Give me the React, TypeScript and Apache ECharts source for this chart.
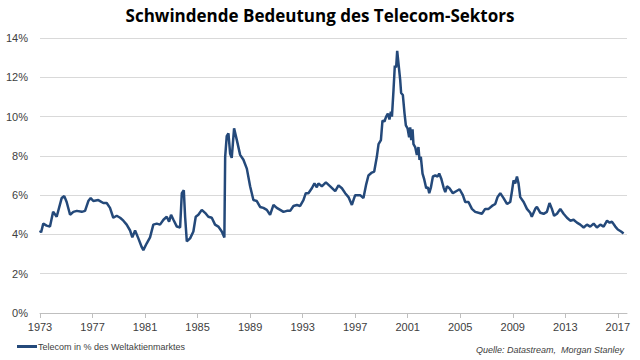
import React, { useEffect, useRef } from "react";
import * as echarts from "echarts";

const title = "Schwindende Bedeutung des Telecom-Sektors";
const seriesName = "Telecom in % des Weltaktienmarktes";
const sourceNote = "Quelle: Datastream,  Morgan Stanley";

const xTickYears = [1973, 1977, 1981, 1985, 1989, 1993, 1997, 2001, 2005, 2009, 2013, 2017];

const years = [
  1973.0, 1973.08, 1973.25, 1973.5, 1973.76, 1974.0, 1974.27, 1974.65, 1974.85, 1975.03,
  1975.29, 1975.54, 1975.8, 1976.18, 1976.43, 1976.68, 1976.86, 1977.06, 1977.44, 1977.82,
  1978.08, 1978.33, 1978.58, 1978.84, 1979.1, 1979.35, 1979.6, 1979.86, 1980.03, 1980.24,
  1980.49, 1980.75, 1980.87, 1981.13, 1981.38, 1981.63, 1981.89, 1982.14, 1982.4, 1982.65,
  1982.83, 1982.98, 1983.16, 1983.42, 1983.67, 1983.8, 1983.95, 1984.05, 1984.18, 1984.43,
  1984.68, 1984.86, 1985.06, 1985.32, 1985.57, 1985.82, 1986.08, 1986.33, 1986.58, 1986.84,
  1987.04, 1987.1, 1987.22, 1987.35, 1987.48, 1987.6, 1987.78, 1987.99, 1988.24, 1988.49,
  1988.75, 1989.0, 1989.25, 1989.51, 1989.76, 1990.01, 1990.27, 1990.52, 1990.78, 1991.03,
  1991.29, 1991.54, 1991.8, 1992.05, 1992.3, 1992.56, 1992.81, 1993.06, 1993.24, 1993.44,
  1993.7, 1993.9, 1994.08, 1994.2, 1994.46, 1994.77, 1995.1, 1995.48, 1995.73, 1995.99,
  1996.24, 1996.49, 1996.75, 1996.87, 1997.0, 1997.38, 1997.63, 1997.84, 1998.01, 1998.27,
  1998.45, 1998.65, 1998.78, 1998.96, 1999.08, 1999.23, 1999.36, 1999.49, 1999.61, 1999.72,
  1999.8, 1999.92, 2000.02, 2000.12, 2000.2, 2000.3, 2000.43, 2000.5, 2000.63, 2000.76,
  2000.86, 2000.99, 2001.11, 2001.19, 2001.27, 2001.37, 2001.44, 2001.57, 2001.7, 2001.82,
  2001.9, 2002.0, 2002.13, 2002.26, 2002.41, 2002.54, 2002.64, 2002.77, 2002.92, 2003.1,
  2003.28, 2003.4, 2003.55, 2003.73, 2003.86, 2003.99, 2004.18, 2004.44, 2004.69, 2004.95,
  2005.2, 2005.38, 2005.63, 2005.89, 2006.14, 2006.39, 2006.65, 2006.9, 2007.16, 2007.42,
  2007.67, 2007.84, 2008.05, 2008.3, 2008.56, 2008.81, 2008.94, 2009.06, 2009.19, 2009.32,
  2009.44, 2009.57, 2009.83, 2010.08, 2010.33, 2010.45, 2010.71, 2010.84, 2011.1, 2011.35,
  2011.6, 2011.8, 2011.98, 2012.15, 2012.37, 2012.62, 2012.87, 2013.13, 2013.38, 2013.63,
  2013.89, 2014.14, 2014.4, 2014.65, 2014.9, 2015.16, 2015.41, 2015.67, 2015.92, 2016.18,
  2016.38, 2016.55, 2016.81, 2017.0, 2017.25, 2017.44,
];

const telecomShare = [
  4.2, 4.1, 4.55, 4.45, 4.4, 5.15, 4.9, 5.85, 5.95, 5.65,
  5.0, 5.15, 5.2, 5.15, 5.2, 5.7, 5.85, 5.7, 5.75, 5.6,
  5.6, 5.35, 4.85, 4.95, 4.85, 4.7, 4.5, 4.2, 3.85, 4.2,
  3.8, 3.35, 3.2, 3.55, 3.85, 4.5, 4.55, 4.5, 4.75, 4.9,
  4.65, 5.0, 4.75, 4.4, 4.35, 6.1, 6.25, 4.9, 3.65, 3.8,
  4.15, 4.9, 5.0, 5.25, 5.1, 4.9, 4.85, 4.5, 4.4, 4.15,
  3.85, 7.95, 9.0, 9.15, 8.1, 7.9, 9.4, 8.8, 8.05, 7.8,
  7.35, 6.45, 5.75, 5.7, 5.4, 5.35, 5.25, 5.0, 5.5, 5.35,
  5.25, 5.15, 5.2, 5.2, 5.45, 5.5, 5.45, 5.75, 6.1, 6.1,
  6.35, 6.6, 6.4, 6.6, 6.45, 6.65, 6.45, 6.2, 6.5, 6.35,
  6.1, 5.9, 5.5, 5.75, 6.0, 6.0, 5.85, 6.55, 7.0, 7.15,
  7.2, 7.95, 8.6, 8.8, 9.8, 9.75, 10.0, 10.15, 9.85, 10.25,
  10.0, 11.35, 12.6, 12.5, 13.35, 12.7, 11.85, 11.2, 11.1, 10.15,
  9.55, 9.4, 8.95, 9.45, 8.8, 9.35, 8.6, 8.45, 8.05, 8.45,
  7.8, 7.95, 7.1, 6.8, 6.35, 6.4, 6.1, 6.4, 6.95, 7.0,
  6.95, 7.1, 6.85, 6.4, 6.15, 6.45, 6.35, 6.1, 6.2, 6.3,
  6.0, 5.65, 5.65, 5.3, 5.15, 5.1, 5.05, 5.3, 5.3, 5.45,
  5.55, 5.9, 6.1, 5.85, 5.55, 5.65, 6.2, 6.75, 6.6, 6.95,
  6.6, 5.9, 5.65, 5.3, 5.1, 4.9, 5.3, 5.4, 5.1, 5.05,
  5.15, 5.6, 5.3, 4.95, 5.05, 5.3, 5.05, 4.85, 4.7, 4.75,
  4.6, 4.5, 4.35, 4.5, 4.4, 4.55, 4.35, 4.5, 4.4, 4.7,
  4.6, 4.65, 4.4, 4.25, 4.15, 4.05,
];

export default function App() {
  const ref = useRef<HTMLDivElement>(null);

  useEffect(() => {
    if (!ref.current) return;
    const chart = echarts.init(ref.current, undefined, { renderer: "svg" });
    const data = years.map((y, i) => [y, telecomShare[i]]);
    chart.setOption({
      animation: false,
      backgroundColor: "#ffffff",
      title: {
        text: title,
        left: "center",
        top: 2,
        textStyle: {
          fontFamily: "Open Sans",
          fontWeight: "bold",
          fontSize: 17,
          color: "#000000",
        },
      },
      grid: { left: 40, right: 13, top: 38, bottom: 47 },
      xAxis: {
        type: "value",
        min: 1973,
        max: 2017.7,
        interval: 4,
        splitLine: { show: false },
        axisLine: { show: true, lineStyle: { color: "#bfbfbf", width: 1 } },
        axisTick: {
          show: true,
          length: 5,
          customValues: xTickYears,
          lineStyle: { color: "#bfbfbf" },
        },
        axisLabel: {
          customValues: xTickYears,
          formatter: (v: number) => String(Math.round(v)),
          color: "#404040",
          fontFamily: "Liberation Sans",
          fontSize: 11,
          margin: 8,
        },
      },
      yAxis: {
        type: "value",
        min: 0,
        max: 14,
        interval: 2,
        axisLine: { show: false },
        axisTick: { show: false },
        splitLine: { lineStyle: { color: "#d9d9d9", width: 1 } },
        axisLabel: {
          formatter: "{value}%",
          color: "#404040",
          fontFamily: "Liberation Sans",
          fontSize: 11,
          margin: 12,
        },
      },
      legend: {
        left: 12,
        bottom: 4,
        icon: "rect",
        itemWidth: 20,
        itemHeight: 3,
        itemGap: 4,
        textStyle: {
          fontFamily: "Liberation Sans",
          fontSize: 9,
          color: "#404040",
          padding: [0, 0, 0, -4],
        },
        data: [seriesName],
      },
      graphic: [
        {
          type: "text",
          right: 16,
          bottom: 6,
          style: {
            text: sourceNote,
            font: "italic 9px 'Liberation Sans'",
            fill: "#404040",
          },
        },
      ],
      series: [
        {
          name: seriesName,
          type: "line",
          data,
          symbol: "none",
          lineStyle: { color: "#24497a", width: 2.5 },
          itemStyle: { color: "#24497a" },
        },
      ],
    });
    return () => chart.dispose();
  }, []);

  return <div ref={ref} style={{ width: 640, height: 360, position: "absolute", left: 0, top: 0 }} />;
}
